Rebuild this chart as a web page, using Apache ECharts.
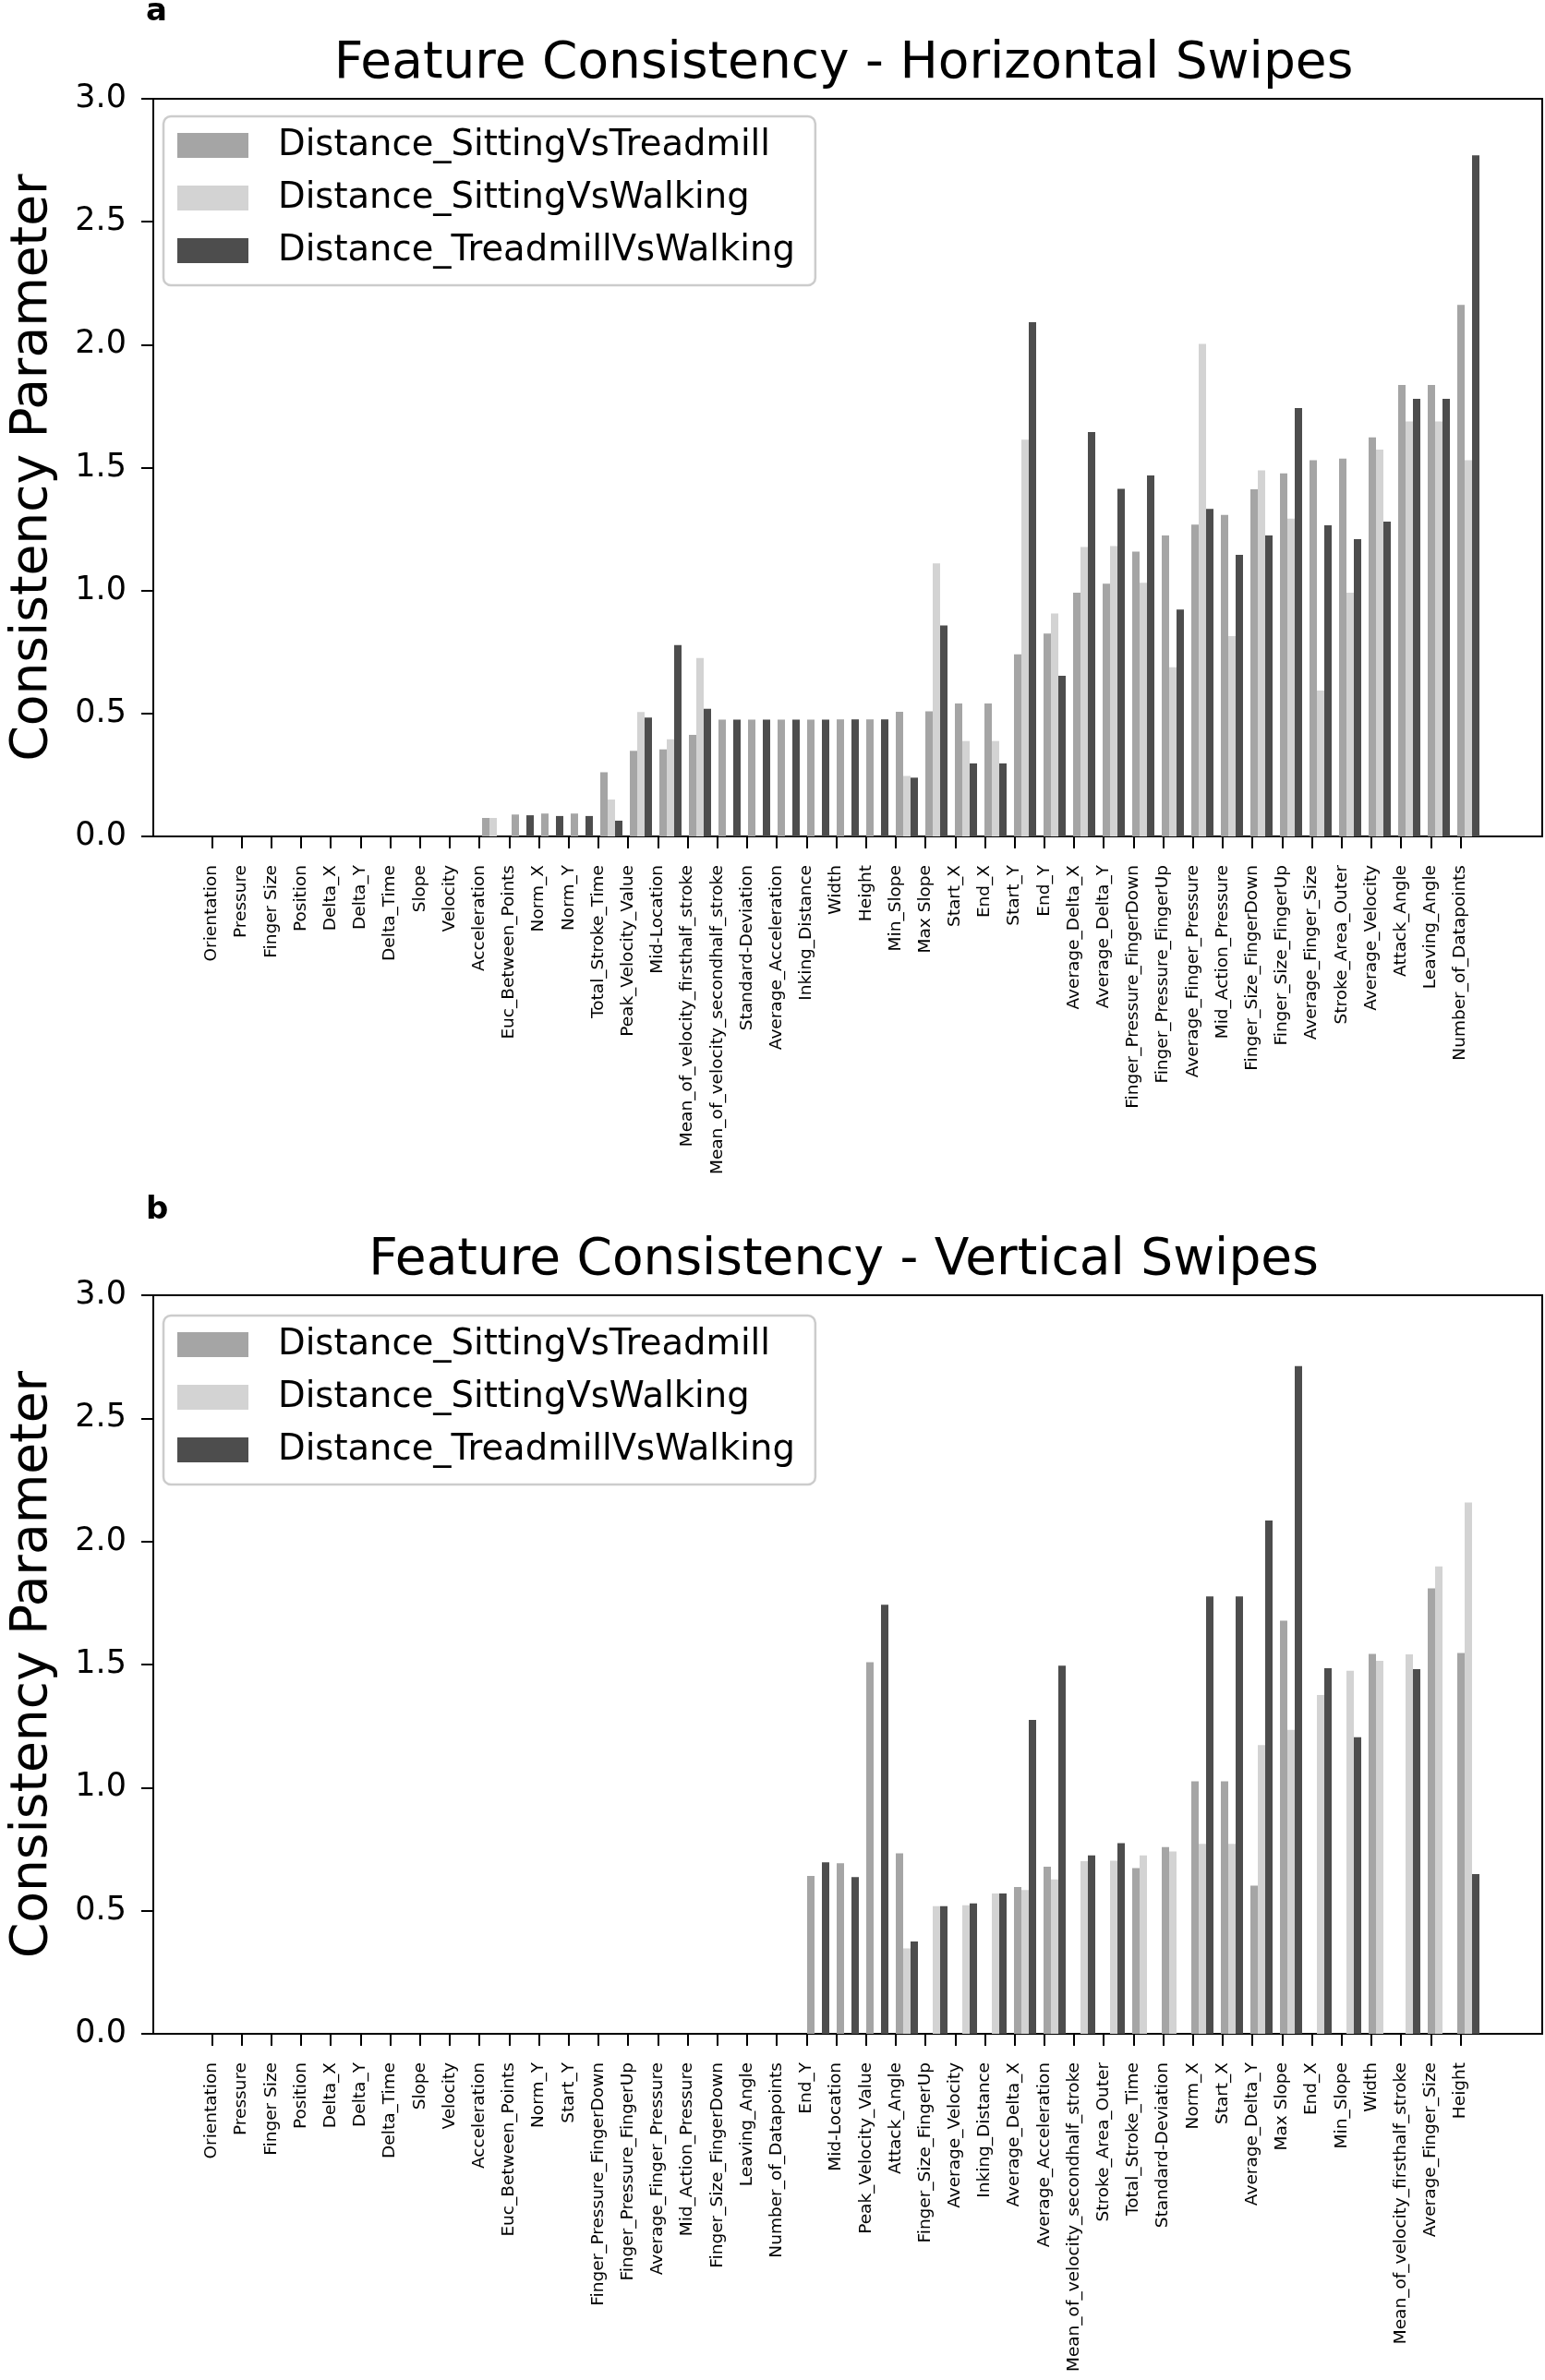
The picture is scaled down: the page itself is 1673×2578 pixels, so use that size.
<!DOCTYPE html>
<html><head><meta charset="utf-8">
<script src="https://cdn.jsdelivr.net/npm/echarts@6/dist/echarts.min.js"></script>
<style>html,body{margin:0;padding:0;background:#fff}#c{width:1673px;height:2578px}</style>
</head><body><div id="c"></div>
<script>
// ---------- DATA ----------
const seriesNames = ['Distance_SittingVsTreadmill', 'Distance_SittingVsWalking', 'Distance_TreadmillVsWalking'];
const yTicks = [0, 0.5, 1.0, 1.5, 2.0, 2.5, 3.0];

const categoriesA = ['Orientation','Pressure','Finger Size','Position','Delta_X','Delta_Y','Delta_Time','Slope','Velocity','Acceleration','Euc_Between_Points','Norm_X','Norm_Y','Total_Stroke_Time','Peak_Velocity_Value','Mid-Location','Mean_of_velocity_firsthalf_stroke','Mean_of_velocity_secondhalf_stroke','Standard-Deviation','Average_Acceleration','Inking_Distance','Width','Height','Min_Slope','Max Slope','Start_X','End_X','Start_Y','End_Y','Average_Delta_X','Average_Delta_Y','Finger_Pressure_FingerDown','Finger_Pressure_FingerUp','Average_Finger_Pressure','Mid_Action_Pressure','Finger_Size_FingerDown','Finger_Size_FingerUp','Average_Finger_Size','Stroke_Area_Outer','Average_Velocity','Attack_Angle','Leaving_Angle','Number_of_Datapoints'];
const sittingVsTreadmillA = [0,0,0,0,0,0,0,0,0,0.075,0.089,0.093,0.093,0.261,0.348,0.354,0.413,0.475,0.475,0.475,0.475,0.476,0.476,0.507,0.509,0.541,0.541,0.741,0.825,0.991,1.028,1.158,1.224,1.268,1.308,1.412,1.477,1.530,1.537,1.623,1.836,1.836,2.162];
const sittingVsWalkingA   = [0,0,0,0,0,0,0,0,0,0.075,0,0,0,0.150,0.506,0.395,0.726,0,0,0,0,0,0,0.246,1.110,0.388,0.388,1.614,0.907,1.177,1.181,1.032,0.688,2.003,0.815,1.489,1.293,0.593,0.991,1.573,1.688,1.688,1.530];
const treadmillVsWalkingA = [0,0,0,0,0,0,0,0,0,0,0.086,0.083,0.083,0.064,0.483,0.778,0.519,0.475,0.475,0.475,0.475,0.476,0.476,0.239,0.858,0.297,0.297,2.091,0.653,1.645,1.414,1.468,0.923,1.332,1.145,1.224,1.742,1.265,1.209,1.280,1.780,1.780,2.770];

const categoriesB = ['Orientation','Pressure','Finger Size','Position','Delta_X','Delta_Y','Delta_Time','Slope','Velocity','Acceleration','Euc_Between_Points','Norm_Y','Start_Y','Finger_Pressure_FingerDown','Finger_Pressure_FingerUp','Average_Finger_Pressure','Mid_Action_Pressure','Finger_Size_FingerDown','Leaving_Angle','Number_of_Datapoints','End_Y','Mid-Location','Peak_Velocity_Value','Attack_Angle','Finger_Size_FingerUp','Average_Velocity','Inking_Distance','Average_Delta_X','Average_Acceleration','Mean_of_velocity_secondhalf_stroke','Stroke_Area_Outer','Total_Stroke_Time','Standard-Deviation','Norm_X','Start_X','Average_Delta_Y','Max Slope','End_X','Min_Slope','Width','Mean_of_velocity_firsthalf_stroke','Average_Finger_Size','Height'];
const sittingVsTreadmillB = [0,0,0,0,0,0,0,0,0,0,0,0,0,0,0,0,0,0,0,0,0.641,0.693,1.509,0.733,0,0,0,0.596,0.679,0,0,0.673,0.758,1.026,1.026,0.602,1.678,0,0,1.543,0,1.809,1.547];
const sittingVsWalkingB   = [0,0,0,0,0,0,0,0,0,0,0,0,0,0,0,0,0,0,0,0,0,0,0,0.347,0.518,0.522,0.570,0.584,0.627,0.701,0.703,0.725,0.741,0.772,0.772,1.173,1.235,1.376,1.475,1.515,1.541,1.898,2.158];
const treadmillVsWalkingB = [0,0,0,0,0,0,0,0,0,0,0,0,0,0,0,0,0,0,0,0,0.697,0.637,1.743,0.375,0.518,0.530,0.570,1.275,1.495,0.725,0.774,0,0,1.777,1.777,2.085,2.712,1.485,1.205,0,1.481,0,0.649];

const titleA = 'Feature Consistency - Horizontal Swipes';
const titleB = 'Feature Consistency - Vertical Swipes';
const yAxisName = 'Consistency Parameter';

// ---------- STYLE / LAYOUT ----------
const FONT = 'DejaVu Sans';
const COLORS = ['#a5a5a5', '#d3d3d3', '#4d4d4d'];
const PLOT_LEFT = 157, PLOT_WIDTH = 1513;
const panels = [
  { cats: categoriesA, vals: [sittingVsTreadmillA, sittingVsWalkingA, treadmillVsWalkingA], title: titleA, letter: 'a',
    top: 107, height: 799, titleTop: 42, letterTop: -4, legendTop: 126 },
  { cats: categoriesB, vals: [sittingVsTreadmillB, sittingVsWalkingB, treadmillVsWalkingB], title: titleB, letter: 'b',
    top: 1403, height: 800, titleTop: 1338, letterTop: 1294, legendTop: 1425 }
];
const padCats = c => ['', ''].concat(c, ['', '']);
const padVals = v => [null, null].concat(v, [null, null]);

const grid = [], xAxis = [], yAxis = [], series = [], title = [], legend = [];
panels.forEach((p, k) => {
  const gi = grid.length;
  grid.push({ left: PLOT_LEFT, top: p.top, width: PLOT_WIDTH, height: p.height, show: true, borderColor: '#000', borderWidth: 2, backgroundColor: 'transparent' });
  grid.push({ left: PLOT_LEFT - 8, top: p.top, width: PLOT_WIDTH, height: p.height, show: false });
  const cats = padCats(p.cats);
  xAxis.push({ type: 'category', gridIndex: gi, data: cats, boundaryGap: true,
    axisLine: { show: true, lineStyle: { color: '#000', width: 2 } }, axisTick: { show: false }, axisLabel: { show: false } });
  xAxis.push({ type: 'category', gridIndex: gi + 1, data: cats, boundaryGap: true,
    axisLine: { show: false },
    axisTick: { show: true, alignWithLabel: true, length: 13, lineStyle: { color: '#000', width: 2 }, interval: (i, v) => v !== '' },
    axisLabel: { interval: 0, rotate: 90, fontFamily: FONT, fontSize: 18.5, color: '#000', margin: 31 } });
  yAxis.push({ type: 'value', gridIndex: gi, min: yTicks[0], max: yTicks[yTicks.length - 1], interval: yTicks[1] - yTicks[0],
    axisLine: { show: true, lineStyle: { color: '#000', width: 2 } },
    axisTick: { show: true, length: 13, lineStyle: { color: '#000', width: 2 } },
    splitLine: { show: false },
    axisLabel: { formatter: v => v.toFixed(1), fontFamily: FONT, fontSize: 35, color: '#000', margin: 29 },
    name: yAxisName, nameLocation: 'middle', nameGap: 103,
    nameTextStyle: { fontFamily: FONT, fontSize: 55, color: '#000' } });
  yAxis.push({ type: 'value', gridIndex: gi + 1, show: false });
  p.vals.forEach((v, s) => {
    series.push({ type: 'bar', name: seriesNames[s], xAxisIndex: gi, yAxisIndex: gi, data: padVals(v),
      barWidth: '25%', barGap: '0%', itemStyle: { color: COLORS[s] }, silent: true, animation: false });
  });
  title.push({ text: p.title, left: PLOT_LEFT + PLOT_WIDTH / 2, textAlign: 'center', top: p.titleTop, padding: 0,
    textStyle: { fontFamily: FONT, fontSize: 55, fontWeight: 'normal', color: '#000' } });
  title.push({ text: p.letter, left: 158, top: p.letterTop, padding: 0,
    textStyle: { fontFamily: FONT, fontSize: 34, fontWeight: 'bold', color: '#000' } });
  legend.push({ left: 177, top: p.legendTop, orient: 'vertical', data: seriesNames, icon: 'rect',
    itemWidth: 77, itemHeight: 27, itemGap: 18, padding: [12, 22, 18, 15],
    backgroundColor: '#fff', borderColor: '#cccccc', borderWidth: 2.5, borderRadius: 8, selectedMode: false,
    textStyle: { fontFamily: FONT, fontSize: 38.5, color: '#000', lineHeight: 38.5, padding: [0, 0, 0, 27] } });
});

const chart = echarts.init(document.getElementById('c'), null, { renderer: 'canvas' });
chart.setOption({ animation: false, backgroundColor: '#fff', title, legend, grid, xAxis, yAxis, series });
</script></body></html>
